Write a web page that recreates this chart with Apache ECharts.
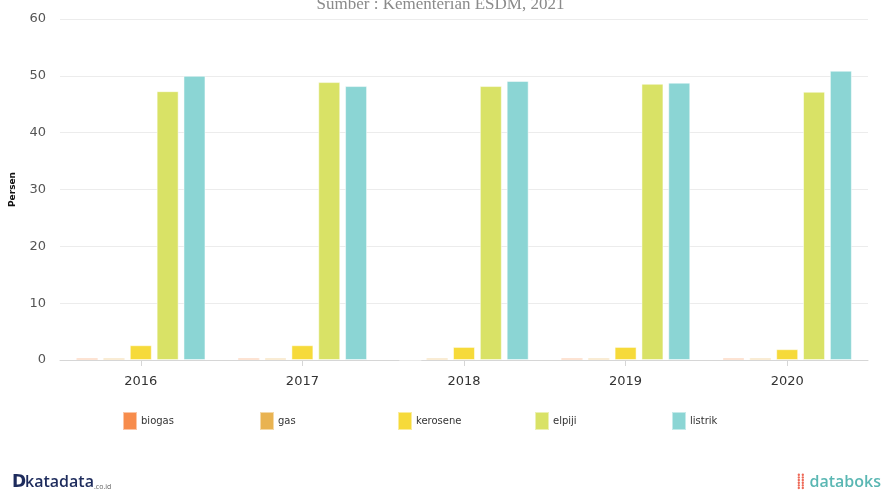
<!DOCTYPE html>
<html>
<head>
<meta charset="utf-8">
<script src="https://cdn.jsdelivr.net/npm/echarts@6/dist/echarts.min.js"></script>
<style>
  html, body { margin: 0; padding: 0; background: #fff; }
  #chart { width: 881px; height: 494px; }
</style>
</head>
<body>
<div id="chart"></div>
<script>
// pangsa energi rumah tangga (persen), Kementerian ESDM
const years = ['2016', '2017', '2018', '2019', '2020']
const seriesNames = ['biogas', 'gas', 'kerosene', 'elpiji', 'listrik']
const biogas = [0.35, 0.35, 0, 0.35, 0.35]
const gas = [0.35, 0.35, 0.35, 0.35, 0.35]
const kerosene = [2.6, 2.6, 2.3, 2.3, 1.9]
const elpiji = [47.3, 48.9, 48.2, 48.6, 47.2]
const listrik = [50.0, 48.2, 49.1, 48.8, 50.9]
const yTicks = [0, 10, 20, 30, 40, 50, 60]

const COLOR = {
  biogas: '#f78c4c',
  gas: '#e9b351',
  kerosene: '#f6da3a',
  elpiji: '#d9e266',
  listrik: '#8bd5d4',
}
const values = { biogas, gas, kerosene, elpiji, listrik }

const chart = echarts.init(document.getElementById('chart'))

const legendLeft = [117, 254, 392, 529, 666]

chart.setOption({
  animation: false,
  textStyle: { fontFamily: '"DejaVu Sans", Verdana, sans-serif' },
  grid: { top: 19, left: 58, right: 13, bottom: 134 },
  legend: seriesNames.map((n, i) => ({
    data: [n],
    left: legendLeft[i],
    top: 406,
    itemWidth: 14,
    itemHeight: 18,
    itemGap: 5,
    icon: 'rect',
    selectedMode: false,
    textStyle: { fontSize: 10, color: '#333', padding: [0, 0, 0, -1] },
  })),
  xAxis: {
    type: 'category',
    data: years,
    axisLine: { lineStyle: { color: '#d6d6d6' } },
    axisTick: { show: true, alignWithLabel: true, length: 6, lineStyle: { color: '#d6d6d6' } },
    axisLabel: { color: '#333', fontSize: 13, margin: 15 },
  },
  yAxis: {
    type: 'value',
    min: yTicks[0],
    max: yTicks[yTicks.length - 1],
    interval: 10,
    name: 'Persen',
    nameLocation: 'middle',
    nameRotate: 90,
    nameGap: 43,
    nameTextStyle: { fontSize: 9, fontWeight: 'bold', color: '#111' },
    axisLine: { show: false },
    axisTick: { show: false },
    axisLabel: { color: '#555', fontSize: 13, margin: 14 },
    splitLine: { lineStyle: { color: '#ececec' } },
  },
  series: seriesNames.map((n) => ({
    name: n,
    type: 'bar',
    data: values[n],
    barWidth: 22,
    barGap: '22%',
    itemStyle: {
      color: COLOR[n],
      borderColor: 'rgba(255,255,255,0.5)',
      borderWidth: 1,
    },
  })),
  graphic: [
    {
      type: 'text',
      left: 'center',
      top: -4,
      style: {
        text: 'Sumber : Kementerian ESDM, 2021',
        font: '17px "Liberation Serif", "DejaVu Serif", serif',
        fill: '#8a8a8a',
      },
    },
    {
      type: 'text',
      left: 12,
      top: 474,
      style: {
        text: 'D',
        font: 'bold 17px "DejaVu Sans", sans-serif',
        fill: '#1d2b5c',
      },
    },
    {
      type: 'text',
      left: 25,
      top: 474,
      style: {
        text: 'katadata',
        font: '600 16px "Open Sans", sans-serif',
        fill: '#1d2b5c',
      },
    },
    {
      type: 'text',
      left: 94,
      top: 483,
      style: {
        text: '.co.id',
        font: '7px "Open Sans", sans-serif',
        fill: '#666',
      },
    },
    {
      type: 'text',
      left: 797,
      top: 475,
      style: {
        text: '\u2E3D\u2E3D',
        font: 'bold 14px "DejaVu Sans", sans-serif',
        fill: '#ee6a58',
      },
    },
    {
      type: 'text',
      right: 0,
      top: 474,
      style: {
        text: 'databoks',
        font: '600 16px "Open Sans", sans-serif',
        fill: '#5ab7b3',
      },
    },
  ],
})
</script>
</body>
</html>
